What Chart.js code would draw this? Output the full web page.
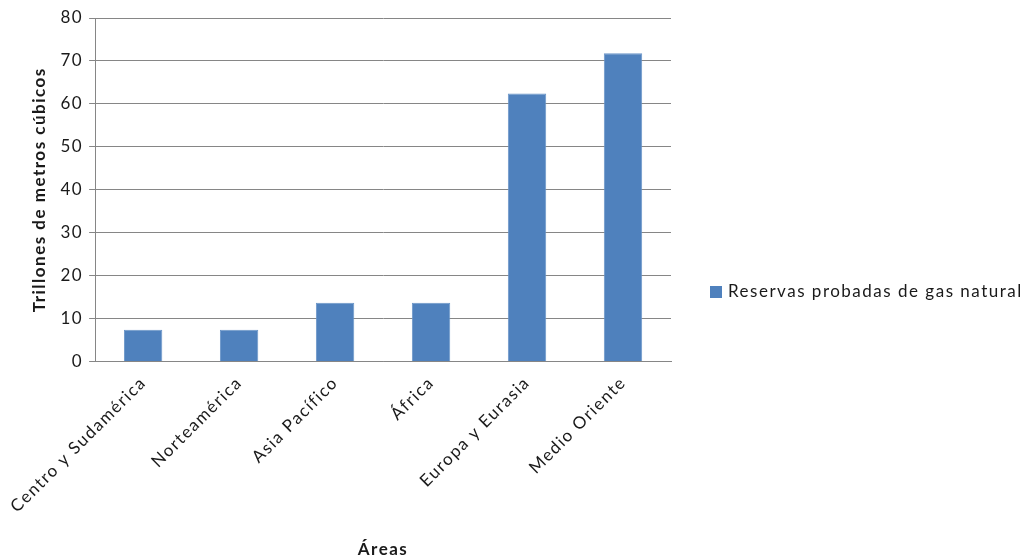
<!DOCTYPE html>
<html>
<head>
<meta charset="utf-8">
<script src="https://cdn.jsdelivr.net/npm/chart.js@4/dist/chart.umd.min.js"></script>
<style>
    html, body { margin: 0; padding: 0; background: #fff; }
    #wrap { width: 1032px; height: 560px; position: relative; }
</style>
</head>
<body>
<div id="wrap"><canvas id="chart"></canvas></div>
<script>
// ===== Data =====
const areas = ['Centro y Sudamérica', 'Norteamérica', 'Asia Pacífico', 'África', 'Europa y Eurasia', 'Medio Oriente'];
const reservas = [7.4, 7.4, 13.7, 13.7, 62.4, 71.8];
const seriesLabel = 'Reservas probadas de gas natural';

Chart.defaults.font.family = "Lato, 'Open Sans', sans-serif";
Chart.defaults.color = '#1a1a1a';

// wider letter spacing, closer to the Office rendering
const spacingPlugin = {
    id: 'spacing',
    beforeUpdate(chart) { chart.ctx.letterSpacing = '1.5px'; },
    beforeDraw(chart) { chart.ctx.letterSpacing = '1.5px'; }
};

// the built-in legend is capped to a quarter of the width, so draw it here
const sideLegend = {
    id: 'sideLegend',
    afterDraw(chart) {
        const { ctx, chartArea } = chart;
        const ds = chart.data.datasets[0];
        const x = chartArea.right + 39;
        const y = chart.height / 2 + 12;
        ctx.save();
        ctx.letterSpacing = '1.5px';
        ctx.fillStyle = ds.backgroundColor;
        ctx.fillRect(x, y - 6, 12, 12);
        ctx.font = "17px Lato, 'Open Sans', sans-serif";
        ctx.fillStyle = '#1a1a1a';
        ctx.textBaseline = 'middle';
        ctx.fillText(ds.label, x + 18, y);
        ctx.restore();
    }
};

function draw() {
    const ctx = document.getElementById('chart').getContext('2d');

    new Chart(ctx, {
        type: 'bar',
        data: {
            labels: areas,
            datasets: [{
                label: seriesLabel,
                data: reservas,
                backgroundColor: '#4f81bd',
                borderColor: '#6a95c8',
                borderWidth: 1,
                barPercentage: 0.4,
                categoryPercentage: 1
            }]
        },
        plugins: [spacingPlugin, sideLegend],
        options: {
            responsive: true,
            maintainAspectRatio: false,
            animation: false,
            layout: {
                padding: { top: 18, left: 25, right: 361, bottom: 0 }
            },
            plugins: {
                legend: { display: false },
                tooltip: { enabled: false }
            },
            scales: {
                y: {
                    min: 0,
                    max: 80,
                    ticks: {
                        stepSize: 10,
                        padding: 6,
                        font: { size: 17 }
                    },
                    grid: {
                        color: '#868686',
                        tickLength: 6
                    },
                    border: { color: '#868686' },
                    title: {
                        display: true,
                        text: 'Trillones de metros cúbicos',
                        font: { size: 17, weight: 'bold' },
                        padding: { bottom: 5 }
                    }
                },
                x: {
                    ticks: {
                        minRotation: 45,
                        maxRotation: 45,
                        font: { size: 17 }
                    },
                    grid: { display: false },
                    border: { color: '#868686' },
                    title: {
                        display: true,
                        text: 'Áreas',
                        font: { size: 17, weight: 'bold' },
                        padding: { top: 20, bottom: 0 }
                    }
                }
            }
        }
    });
}

Promise.all([
    document.fonts.load('17px Lato'),
    document.fonts.load('bold 17px Lato')
]).then(draw, draw);
</script>
</body>
</html>
